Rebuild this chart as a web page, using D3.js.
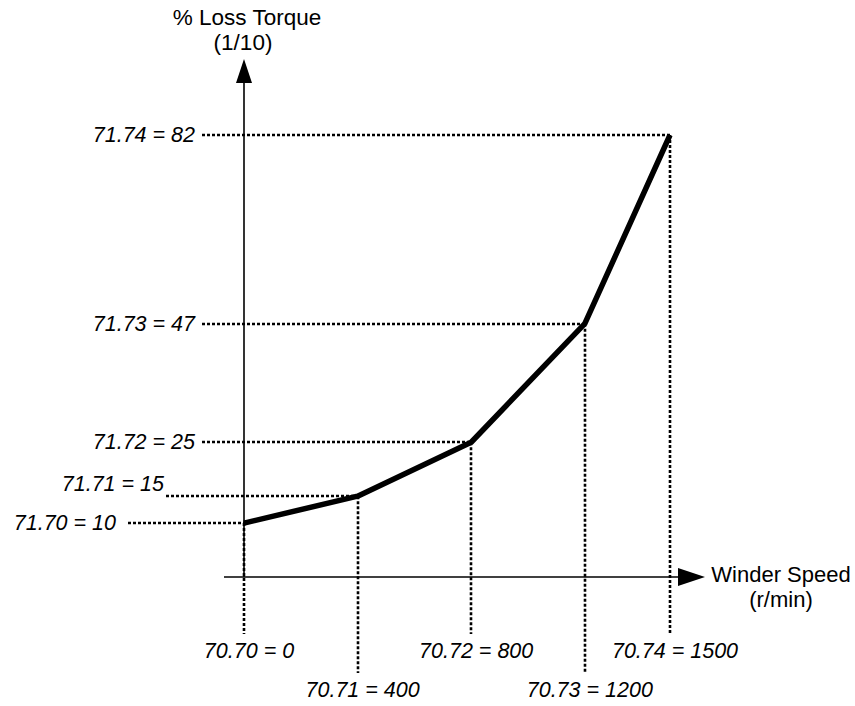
<!DOCTYPE html>
<html>
<head>
<meta charset="utf-8">
<script src="https://cdn.jsdelivr.net/npm/d3@7"></script>
<style>
  body { margin: 0; background: #fff; }
  text { font-family: "Liberation Sans", Arial, sans-serif; fill: #000; }
</style>
</head>
<body>
<div id="chart"></div>
<script>
// parameter values
const speedParams = ['70.70', '70.71', '70.72', '70.73', '70.74'];
const speeds = [0, 400, 800, 1200, 1500];
const torqueParams = ['71.70', '71.71', '71.72', '71.73', '71.74'];
const torques = [10, 15, 25, 47, 82];

// layout of the value labels (not data)
const yLabelRight = [116, 164, 195, 195, 195];
const yDashStart = [128, 166, 202, 202, 202];
const yLabelDy = [7, -5, 7, 7, 7];
const xLong = [false, true, false, true, false];

const width = 855;
const height = 706;

const svg = d3.select('#chart')
  .append('svg')
  .attr('width', width)
  .attr('height', height);

const x = d3.scaleLinear().domain([0, 1500]).range([244, 670]);
const y = d3.scaleLinear().domain([0, 82]).range([577, 135]);

const points = speeds.map((s, i) => ({ s: s, t: torques[i], i: i }));

// dotted guide lines
const guides = svg.append('g')
  .attr('stroke', '#000')
  .attr('stroke-width', 2.6)
  .attr('stroke-dasharray', '3,2')
  .attr('fill', 'none');

guides.selectAll('.hguide')
  .data(points)
  .enter()
  .append('line')
  .attr('x1', d => yDashStart[d.i])
  .attr('x2', d => x(d.s))
  .attr('y1', d => Math.round(y(d.t)))
  .attr('y2', d => Math.round(y(d.t)));

guides.selectAll('.vguide')
  .data(points)
  .enter()
  .append('line')
  .attr('x1', d => Math.round(x(d.s)))
  .attr('x2', d => Math.round(x(d.s)))
  .attr('y1', d => y(d.t))
  .attr('y2', d => xLong[d.i] ? 673 : 634);

// axes
const x0 = x(0);
const y0 = y(0);

svg.append('line')
  .attr('x1', x0).attr('x2', x0)
  .attr('y1', 83).attr('y2', y0)
  .attr('stroke', '#000').attr('stroke-width', 1.6);

svg.append('path')
  .attr('d', `M${x0},59 L${x0 - 8},83 L${x0 + 8},83 Z`)
  .attr('fill', '#000');

svg.append('line')
  .attr('x1', 224).attr('x2', 680)
  .attr('y1', y0).attr('y2', y0)
  .attr('stroke', '#000').attr('stroke-width', 1.6);

svg.append('path')
  .attr('d', `M705,${y0} L678,${y0 - 9} L678,${y0 + 9} Z`)
  .attr('fill', '#000');

// curve
const line = d3.line()
  .x(d => x(d.s))
  .y(d => y(d.t));

svg.append('path')
  .datum(points)
  .attr('d', line)
  .attr('fill', 'none')
  .attr('stroke', '#000')
  .attr('stroke-width', 5.5)
  .attr('stroke-linejoin', 'round');

// value labels
svg.selectAll('.ylab')
  .data(points)
  .enter()
  .append('text')
  .attr('x', d => yLabelRight[d.i])
  .attr('y', d => y(d.t) + yLabelDy[d.i])
  .attr('text-anchor', 'end')
  .attr('font-size', 21.5)
  .attr('font-style', 'italic')
  .text(d => `${torqueParams[d.i]} = ${d.t}`);

svg.selectAll('.xlab')
  .data(points)
  .enter()
  .append('text')
  .attr('x', d => x(d.s) + 5)
  .attr('y', d => xLong[d.i] ? 697 : 658)
  .attr('text-anchor', 'middle')
  .attr('font-size', 21.5)
  .attr('font-style', 'italic')
  .text(d => `${speedParams[d.i]} = ${d.s}`);

// axis titles
svg.append('text')
  .attr('x', 247).attr('y', 25)
  .attr('text-anchor', 'middle')
  .attr('font-size', 22.5)
  .text('% Loss Torque');

svg.append('text')
  .attr('x', 243).attr('y', 50)
  .attr('text-anchor', 'middle')
  .attr('font-size', 22.5)
  .text('(1/10)');

svg.append('text')
  .attr('x', 781).attr('y', 582)
  .attr('text-anchor', 'middle')
  .attr('font-size', 22)
  .text('Winder Speed');

svg.append('text')
  .attr('x', 781).attr('y', 607)
  .attr('text-anchor', 'middle')
  .attr('font-size', 22)
  .text('(r/min)');
</script>
</body>
</html>
